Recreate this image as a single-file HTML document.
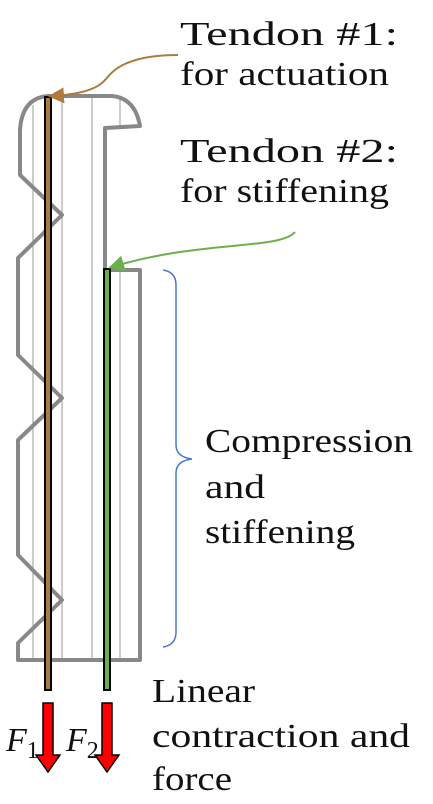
<!DOCTYPE html>
<html><head><meta charset="utf-8"><style>
body{margin:0;background:#fff;width:433px;height:804px;overflow:hidden}
svg{display:block}
text{font-family:"Liberation Serif",serif;font-size:34px;fill:#111}
</style></head><body>
<svg width="433" height="804">
<defs>
<marker id="ab" markerWidth="8" markerHeight="8" refX="6" refY="4" orient="auto"><path d="M0,0L8,4L0,8z" fill="#b07a3a"/></marker>
<marker id="ag" markerWidth="8" markerHeight="8" refX="6" refY="4" orient="auto"><path d="M0,0L8,4L0,8z" fill="#6ab04c"/></marker>
</defs>
<g stroke="#999" stroke-width="1">
<line x1="33" y1="105" x2="33" y2="660"/><line x1="62" y1="97" x2="62" y2="660"/><line x1="92" y1="97" x2="92" y2="660"/><line x1="120" y1="97" x2="120" y2="126"/><line x1="120" y1="270" x2="120" y2="660"/>
</g>
<path d="M20,175 L20,130 Q22,98 48,96 L112,96 Q135,98 140,126 L105,128 L105,270 L140,270 L140,660 L18,660 L18,643 L62,600 L18,555 L18,440 L62,398 L18,355 L18,258 L62,215 Z" fill="none" stroke="#888" stroke-width="4" stroke-linejoin="round"/>
<rect x="45" y="97" width="6" height="593" fill="#b07a3a" stroke="#000" stroke-width="2"/>
<rect x="104" y="269" width="6" height="421" fill="#6ab04c" stroke="#000" stroke-width="2"/>
<path d="M178,55 C120,55 110,75 105,80 C95,92 70,95 52,96" fill="none" stroke="#b07a3a" stroke-width="2" marker-end="url(#ab)"/>
<path d="M295,232 C280,250 200,240 112,267" fill="none" stroke="#6ab04c" stroke-width="2" marker-end="url(#ag)"/>
<path d="M43,703 L53,703 L53,755 L60,755 L48,772 L36,755 L43,755 Z" fill="#f00" stroke="#000" stroke-width="1.5"/>
<path d="M102,703 L112,703 L112,755 L119,755 L107,772 L95,755 L102,755 Z" fill="#f00" stroke="#000" stroke-width="1.5"/>
<text x="6" y="751" font-style="italic" font-size="36">F<tspan font-size="24" dy="7" font-style="normal">1</tspan></text>
<text x="66" y="751" font-style="italic" font-size="36">F<tspan font-size="24" dy="7" font-style="normal">2</tspan></text>
<path d="M163,270 Q176,272 176,285 L176,445 Q176,457 192,459 Q176,461 176,473 L176,632 Q176,645 163,647" fill="none" stroke="#4a78d0" stroke-width="1.5"/>
<text x="180" y="45" textLength="218" lengthAdjust="spacingAndGlyphs">Tendon #1:</text>
<text x="180" y="85" textLength="209" lengthAdjust="spacingAndGlyphs">for actuation</text>
<text x="180" y="162" textLength="218" lengthAdjust="spacingAndGlyphs">Tendon #2:</text>
<text x="180" y="202" textLength="209" lengthAdjust="spacingAndGlyphs">for stiffening</text>
<text x="205" y="452" textLength="208" lengthAdjust="spacingAndGlyphs">Compression</text>
<text x="205" y="498" textLength="60" lengthAdjust="spacingAndGlyphs">and</text>
<text x="205" y="543" textLength="150" lengthAdjust="spacingAndGlyphs">stiffening</text>
<text x="152" y="702" textLength="103" lengthAdjust="spacingAndGlyphs">Linear</text>
<text x="152" y="747" textLength="258" lengthAdjust="spacingAndGlyphs">contraction and</text>
<text x="152" y="790" textLength="80" lengthAdjust="spacingAndGlyphs">force</text>
</svg>
</body></html>
